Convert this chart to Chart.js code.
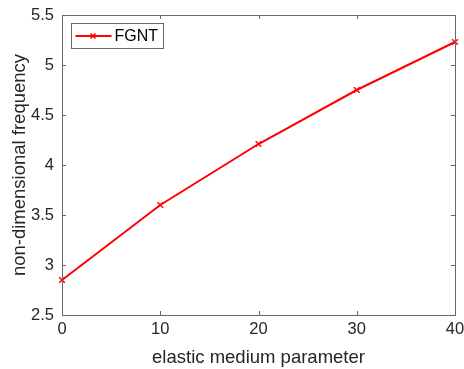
<!DOCTYPE html>
<html><head><meta charset="utf-8">
<script src="https://cdn.jsdelivr.net/npm/chart.js@4/dist/chart.umd.min.js"></script>
<style>html,body{margin:0;padding:0;background:#fff}#w{width:464px;height:369px}</style>
</head><body><div id="w"><canvas id="c" width="464" height="369"></canvas></div>
<script>
const xValues = [0, 10, 20, 30, 40];
const fgnt = [2.85, 3.60, 4.21, 4.75, 5.23];
const seriesLabel = 'FGNT';
const xTitle = 'elastic medium parameter';
const yTitle = 'non-dimensional frequency';

const axisColor = '#666666';
const textColor = '#262626';
const FONT = 'Liberation Sans, Arial, sans-serif';

const boxPlugin = {
  id: 'box',
  afterDraw(chart) {
    const ctx = chart.ctx, a = chart.chartArea;
    const xs = chart.scales.x, ys = chart.scales.y;
    ctx.save();
    ctx.strokeStyle = axisColor; ctx.lineWidth = 1;
    ctx.strokeRect(Math.round(a.left)+0.5, Math.round(a.top)+0.5, Math.round(a.right-a.left), Math.round(a.bottom-a.top));
    const tl = 4;
    ctx.beginPath();
    xs.ticks.forEach(t => {
      const px = Math.round(xs.getPixelForValue(t.value)) + 0.5;
      ctx.moveTo(px, a.bottom); ctx.lineTo(px, a.bottom - tl);
      ctx.moveTo(px, a.top); ctx.lineTo(px, a.top + tl);
    });
    ys.ticks.forEach(t => {
      const py = Math.round(ys.getPixelForValue(t.value)) + 0.5;
      ctx.moveTo(a.left, py); ctx.lineTo(a.left + tl, py);
      ctx.moveTo(a.right, py); ctx.lineTo(a.right - tl, py);
    });
    ctx.stroke();
    // legend
    const lx = a.left + 9.5, ly = a.top + 8.5, lw = 92, lh = 25;
    ctx.fillStyle = '#fff';
    ctx.fillRect(lx, ly, lw, lh);
    ctx.strokeStyle = axisColor;
    ctx.strokeRect(lx, ly, lw, lh);
    const ds = chart.data.datasets[0];
    const cy = ly + lh/2;
    ctx.strokeStyle = ds.borderColor; ctx.lineWidth = 2;
    ctx.beginPath(); ctx.moveTo(lx + 4, cy); ctx.lineTo(lx + 40, cy); ctx.stroke();
    ctx.lineWidth = 1.5;
    const mx = lx + 21.5, r = 2.5;
    ctx.beginPath();
    ctx.moveTo(mx - r, cy - r); ctx.lineTo(mx + r, cy + r);
    ctx.moveTo(mx - r, cy + r); ctx.lineTo(mx + r, cy - r);
    ctx.stroke();
    ctx.fillStyle = '#000';
    ctx.font = '16px ' + FONT;
    ctx.textBaseline = 'middle'; ctx.textAlign = 'left';
    ctx.fillText(ds.label, lx + 43, cy + 1);
    ctx.restore();
  }
};

new Chart(document.getElementById('c'), {
  type: 'line',
  data: {
    datasets: [{
      label: seriesLabel,
      data: xValues.map((x, i) => ({x: x, y: fgnt[i]})),
      borderColor: '#ff0000',
      backgroundColor: '#ff0000',
      borderWidth: 2,
      pointStyle: 'crossRot',
      pointRadius: 4,
      pointBorderWidth: 1.5,
      pointBorderColor: '#ff0000',
      tension: 0,
      fill: false,
      clip: false
    }]
  },
  options: {
    responsive: false,
    animation: false,
    devicePixelRatio: 1,
    layout: { padding: { top: 15, right: 9, left: 0, bottom: 0 } },
    plugins: { legend: { display: false }, tooltip: { enabled: false } },
    scales: {
      x: {
        type: 'linear', min: 0, max: 40,
        border: { display: false },
        grid: { display: false, drawTicks: false },
        ticks: { stepSize: 10, color: textColor, font: { family: FONT, size: 16.5 }, padding: 5, maxRotation: 0 },
        title: { display: true, text: xTitle, color: textColor, font: { family: FONT, size: 18.5 }, padding: { top: 2, bottom: 0 } },
        afterFit(s) { s.height = 54; s.paddingLeft = 0; s.paddingRight = 0; }
      },
      y: {
        type: 'linear', min: 2.5, max: 5.5,
        border: { display: false },
        grid: { display: false, drawTicks: false },
        ticks: { stepSize: 0.5, color: textColor, font: { family: FONT, size: 16.5 }, padding: 8,
          callback: v => String(v) },
        title: { display: true, text: yTitle, color: textColor, font: { family: FONT, size: 18.5 }, padding: { top: 9, bottom: 0 } },
        afterFit(s) { s.width = 62; s.paddingTop = 0; s.paddingBottom = 0; }
      }
    }
  },
  plugins: [boxPlugin]
});
</script>
</body></html>
